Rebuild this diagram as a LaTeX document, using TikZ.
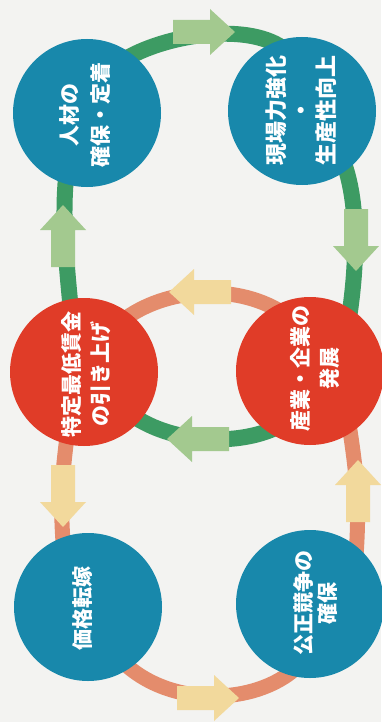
\documentclass[tikz,border=0pt]{standalone}
\usepackage{fontspec}
\setmainfont{Noto Sans CJK JP}
\definecolor{bgc}{HTML}{F3F3F1}
\definecolor{tealc}{HTML}{1888AB}
\definecolor{redcol}{HTML}{E03C28}
\definecolor{gline}{HTML}{3D9B63}
\definecolor{garrow}{HTML}{A3C98F}
\definecolor{oline}{HTML}{E48C6C}
\definecolor{yarrow}{HTML}{F2D99C}
\pgfdeclarelayer{back}
\pgfdeclarelayer{bg}
\pgfsetlayers{back,bg,main}
\tikzset{
  blockarr/.pic={\fill[pic actions] (-31,-12) -- (6,-12) -- (6,-23) -- (31,0) -- (6,23) -- (6,12) -- (-31,12) -- cycle;}
}
\begin{document}
\begin{tikzpicture}[x=1pt,y=-1pt,
  circ/.style={circle,minimum size=148pt,inner sep=0pt,fill=tealc},
  redcirc/.style={circ,fill=redcol},
  txt/.style={text=white,rotate=90,align=center,inner sep=0pt,font=\bfseries\fontsize{21}{27}\selectfont},
  greenpath/.style={draw=gline,line width=16pt,shorten <=-10pt,shorten >=-10pt},
  orangepath/.style={draw=oline,line width=15pt,shorten <=-10pt,shorten >=-10pt},
  garr/.style={fill=garrow},
  yarr/.style={fill=yarrow}]
\begin{pgfonlayer}{back}
\fill[bgc] (0,0) rectangle (381,722);
\end{pgfonlayer}
\useasboundingbox (0,0) rectangle (381,722);

% circles
\node[circ] (tl) at (87,113) {};
\node[circ] (tr) at (302,111) {};
\node[redcirc] (rl) at (84,372) {};
\node[redcirc] (rr) at (310,371) {};
\node[circ] (bl) at (88,607) {};
\node[circ] (br) at (310,604) {};

% texts
\node[txt,font=\bfseries\fontsize{21}{31}\selectfont] (tlt) at (85,115) {人材の\\確保・定着};
\node[txt,font=\bfseries\fontsize{22}{25}\selectfont] (trt) at (301,111) {現場力強化\\・\\生産性向上};
\node[txt,font=\bfseries\fontsize{21}{29}\selectfont] (rlt) at (86,374) {特定最低賃金\\の引き上げ};
\node[txt,font=\bfseries\fontsize{21}{29}\selectfont] (rrt) at (315,368) {産業・企業の\\発展};
\node[txt] (blt) at (83,608) {価格転嫁};
\node[txt,font=\bfseries\fontsize{21}{24}\selectfont] (brt) at (316,603) {公正競争の\\確保};

% connectors
\begin{pgfonlayer}{bg}
\draw[greenpath] (tl.52) .. controls (165,35) and (245,22) .. (tr.112);
\draw[greenpath] (tr.307) .. controls (358,200) and (358,260) .. (rr.57);
\draw[greenpath] (rr.235) .. controls (240,445) and (175,445) .. (rl.319);
\draw[greenpath] (rl.101) .. controls (66,260) and (62,215) .. (tl.253);
\draw[orangepath] (rr.120) .. controls (235,283) and (165,288) .. (rl.51);
\draw[orangepath] (rl.256) .. controls (62,475) and (60,505) .. (bl.110);
\draw[orangepath] (bl.304) .. controls (170,708) and (255,705) .. (br.253);
\draw[orangepath] (br.51) .. controls (360,500) and (356,470) .. (rr.303);
\end{pgfonlayer}

% arrows
\pic[garr] (a1) at (204,32) {blockarr};
\pic[garr,rotate=90] (a2) at (63,236) {blockarr};
\pic[garr,rotate=-90] (a3) at (356,240) {blockarr};
\pic[garr,rotate=180] (a4) at (198,439) {blockarr};
\pic[yarr,rotate=180] (a5) at (200,292) {blockarr};
\pic[yarr,rotate=-90] (a6) at (63,496) {blockarr};
\pic[yarr,rotate=90] (a7) at (358,491) {blockarr};
\pic[yarr] (a8) at (208,698) {blockarr};
\end{tikzpicture}
\end{document}
